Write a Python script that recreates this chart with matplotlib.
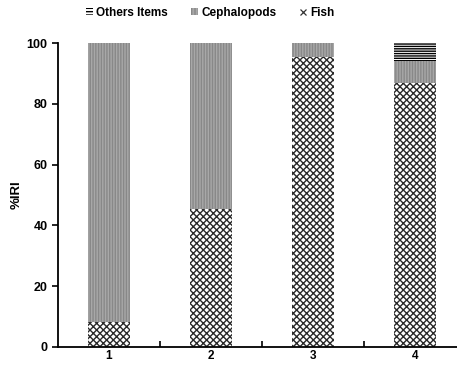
import matplotlib
matplotlib.use('Agg')
import matplotlib.pyplot as plt
from matplotlib.patches import Patch
from matplotlib.lines import Line2D

groups = ['1', '2', '3', '4']
fish = [8, 45.5, 95.5, 87]
cephalopods = [92, 54.5, 4.5, 7]
others = [0, 0, 0, 6]

plt.rcParams['font.family'] = 'Liberation Sans'
plt.rcParams['font.weight'] = 'bold'
plt.rcParams['hatch.linewidth'] = 1.0

fig = plt.figure(figsize=(4.57, 3.65), dpi=100)
ax = fig.add_axes([0.127, 0.05, 0.873, 0.832])

x = range(1, len(groups) + 1)
w = 0.41
ax.bar(x, fish, w, color='white', edgecolor='#2a2a2a', hatch='xxxxx', linewidth=0)
ax.bar(x, cephalopods, w, bottom=fish, color='#a8a8a8', edgecolor='#888888',
       hatch='||||||', linewidth=0)
bot2 = [f + c for f, c in zip(fish, cephalopods)]
ax.bar(x, others, w, bottom=bot2, color='white', edgecolor='black',
       hatch='-------', linewidth=0)

ax.set_xlim(0.5, 4.41)
ax.set_ylim(0, 100)
ax.set_yticks([0, 20, 40, 60, 80, 100])
ax.set_xticks([1.5, 2.5, 3.5])
ax.set_xticklabels([])
ax.set_xticks(list(x), minor=True)
ax.set_xticklabels(groups, minor=True)
ax.tick_params(axis='x', which='minor', length=0, labelsize=8.5, pad=2)
ax.tick_params(axis='x', which='major', length=4, direction='in', width=1.2)
ax.tick_params(axis='y', length=4, width=1.2, labelsize=9)
ax.set_ylabel('%IRI', fontsize=9.5, fontweight='bold', labelpad=3)
for s in ['top', 'right']:
    ax.spines[s].set_visible(False)
for s in ['left', 'bottom']:
    ax.spines[s].set_linewidth(1.3)

handles = [
    Patch(facecolor='white', edgecolor='black', hatch='-----', linewidth=0),
    Patch(facecolor='#a8a8a8', edgecolor='#888888', hatch='|||||', linewidth=0),
    Line2D([], [], linestyle='none', marker='x', markersize=4.5,
           markeredgewidth=0.9, color='#333333'),
]
fig.legend(handles, ['Others Items', 'Cephalopods', 'Fish'], loc='upper left',
           bbox_to_anchor=(0.165, 1.01), ncol=3, frameon=False, fontsize=8.5,
           handlelength=0.55, handleheight=0.55, handletextpad=0.3, columnspacing=2.0)

fig.savefig('out.png', dpi=100)
